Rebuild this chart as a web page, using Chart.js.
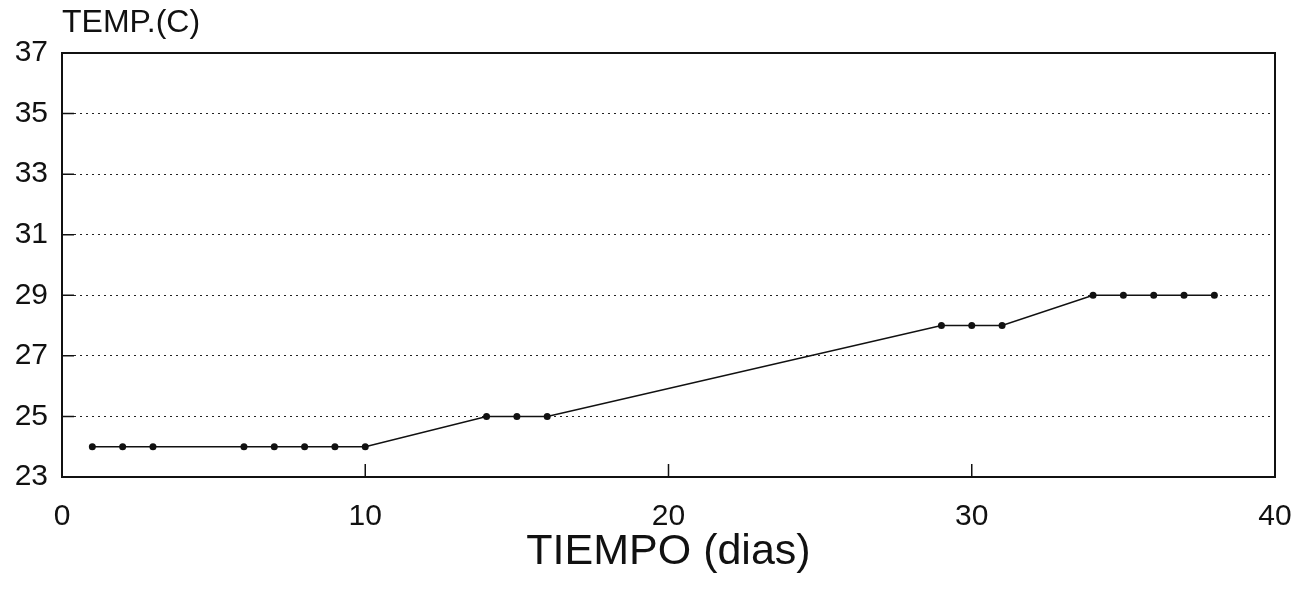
<!DOCTYPE html>
<html>
<head>
<meta charset="utf-8">
<script src="https://cdn.jsdelivr.net/npm/chart.js@4/dist/chart.umd.min.js"></script>
<style>
  html, body { margin: 0; padding: 0; background: #fff; }
  #wrap { width: 1301px; height: 589px; }
</style>
</head>
<body>
<div id="wrap"><canvas id="tempChart" width="1301" height="589"></canvas></div>
<script>
// days and temperature readings
const dias = [1, 2, 3, 6, 7, 8, 9, 10, 14, 15, 16, 29, 30, 31, 34, 35, 36, 37, 38];
const temps = [24, 24, 24, 24, 24, 24, 24, 24, 25, 25, 25, 28, 28, 28, 29, 29, 29, 29, 29];
const xTicks = [0, 10, 20, 30, 40];
const yTicks = [23, 25, 27, 29, 31, 33, 35, 37];

const font = 'Liberation Sans, Arial, Helvetica, sans-serif';

// frame, inward ticks and the y label
const framePlugin = {
    id: 'frame',
    afterDraw(chart) {
        const ctx = chart.ctx;
        const a = chart.chartArea;
        const xs = chart.scales.x;
        const ys = chart.scales.y;
        ctx.save();
        ctx.strokeStyle = '#111';
        ctx.lineWidth = 2;
        ctx.strokeRect(a.left, a.top, a.right - a.left, a.bottom - a.top);
        ctx.lineWidth = 1.5;
        ctx.beginPath();
        xTicks.slice(1, -1).forEach(v => {
            const px = xs.getPixelForValue(v);
            ctx.moveTo(px, a.bottom);
            ctx.lineTo(px, a.bottom - 13);
        });
        yTicks.slice(1, -1).forEach(v => {
            const py = ys.getPixelForValue(v);
            ctx.moveTo(a.left, py);
            ctx.lineTo(a.left + 12, py);
        });
        ctx.stroke();
        ctx.fillStyle = '#111';
        ctx.font = '32px ' + font;
        ctx.textBaseline = 'alphabetic';
        ctx.fillText('TEMP.(C)', a.left, 32);
        ctx.restore();
    }
};

new Chart(document.getElementById('tempChart'), {
    type: 'line',
    data: {
        datasets: [{
            data: dias.map((d, i) => ({ x: d, y: temps[i] })),
            borderColor: '#111',
            backgroundColor: '#111',
            borderWidth: 1.6,
            pointRadius: 3.5,
            pointBorderWidth: 0,
            tension: 0,
            fill: false
        }]
    },
    options: {
        responsive: false,
        animation: false,
        layout: { padding: { top: 53, right: 26, left: 0, bottom: 0 } },
        plugins: { legend: { display: false }, tooltip: { enabled: false } },
        scales: {
            x: {
                type: 'linear',
                min: 0, max: 40,
                afterBuildTicks: s => { s.ticks = xTicks.map(v => ({ value: v })); },
                afterFit: s => { s.height = 112; s.paddingLeft = 0; s.paddingRight = 0; },
                grid: { drawOnChartArea: false, drawTicks: false },
                border: { display: false },
                ticks: { color: '#111', font: { family: font, size: 30 }, padding: 22 },
                title: {
                    display: true,
                    text: 'TIEMPO (dias)',
                    color: '#111',
                    font: { family: font, size: 43 },
                    padding: { top: 0, bottom: 11 }
                }
            },
            y: {
                min: 23, max: 37,
                afterBuildTicks: s => { s.ticks = yTicks.map(v => ({ value: v })); },
                afterFit: s => { s.width = 62; },
                grid: { color: '#222', lineWidth: 1, drawTicks: false },
                border: { display: false, dash: [2, 4] },
                ticks: { color: '#111', font: { family: font, size: 30 }, padding: 14 }
            }
        }
    },
    plugins: [framePlugin]
});
</script>
</body>
</html>
